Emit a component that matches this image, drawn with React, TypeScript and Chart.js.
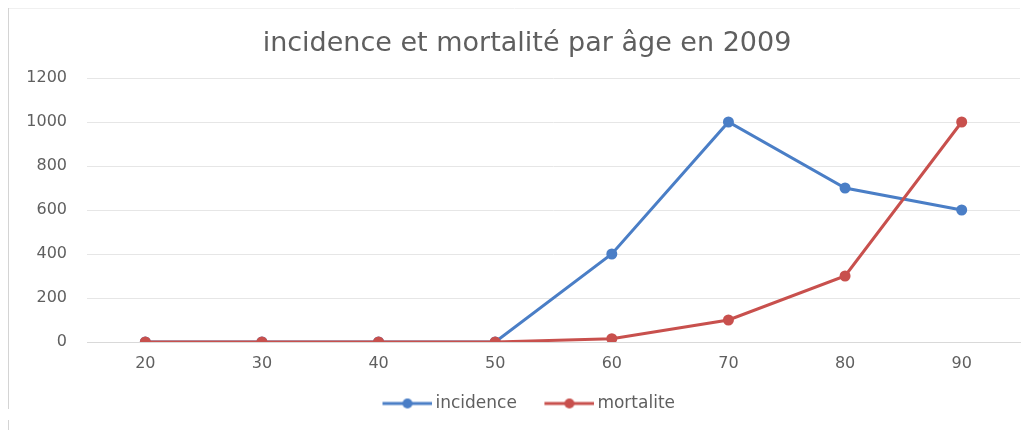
import React, { useEffect, useRef } from "react";
import { Chart, registerables } from "chart.js";

Chart.register(...registerables);

const TITLE = "incidence et mortalité par âge en 2009";
const AGES = ["20", "30", "40", "50", "60", "70", "80", "90"];
const INCIDENCE = [0, 0, 0, 0, 400, 1000, 700, 600];
const MORTALITE = [0, 0, 0, 0, 15, 100, 300, 1000];
const SERIES_NAMES = ["incidence", "mortalite"];
const BLUE = "#4a7ec6";
const RED = "#c8504d";
const TEXT = "#5f5f5f";
const FONT = "'DejaVu Sans', Verdana, sans-serif";

function legendIcon(color: string): HTMLCanvasElement {
  const c = document.createElement("canvas");
  c.width = 59;
  c.height = 12;
  const ctx = c.getContext("2d")!;
  ctx.strokeStyle = color;
  ctx.lineWidth = 3;
  ctx.beginPath();
  ctx.moveTo(9, 6);
  ctx.lineTo(59, 6);
  ctx.stroke();
  ctx.fillStyle = color;
  ctx.beginPath();
  ctx.arc(34, 6, 5, 0, Math.PI * 2);
  ctx.fill();
  return c;
}

const framePlugin = {
  id: "frame",
  afterLayout(chart: any) {
    // let the y tick labels use the space left of the layout padding
    const y = chart.scales.y;
    if (y) y.left = 10;
  },
  beforeDraw(chart: any) {
    const ctx = chart.ctx;
    ctx.save();
    ctx.strokeStyle = "#d4d4d4";
    ctx.lineWidth = 1;
    ctx.beginPath();
    ctx.moveTo(8.5, 8);
    ctx.lineTo(8.5, 409);
    ctx.moveTo(8.5, 420);
    ctx.lineTo(8.5, 430);
    ctx.stroke();
    ctx.strokeStyle = "#f0f0f0";
    ctx.beginPath();
    ctx.moveTo(9, 8.5);
    ctx.lineTo(1020, 8.5);
    ctx.stroke();
    ctx.restore();
  },
};

export default function App() {
  const ref = useRef<HTMLCanvasElement | null>(null);
  useEffect(() => {
    if (!ref.current) return;
    const icons = [legendIcon(BLUE), legendIcon(RED)];
    const chart = new Chart(ref.current, {
      type: "line",
      data: {
        labels: AGES,
        datasets: [
          {
            label: SERIES_NAMES[0],
            data: INCIDENCE,
            borderColor: BLUE,
            backgroundColor: BLUE,
            borderWidth: 3,
            pointRadius: 5.5,
            pointBorderWidth: 0,
            pointBackgroundColor: BLUE,
            tension: 0,
            order: 1,
          },
          {
            label: SERIES_NAMES[1],
            data: MORTALITE,
            borderColor: RED,
            backgroundColor: RED,
            borderWidth: 3,
            pointRadius: 5.5,
            pointBorderWidth: 0,
            pointBackgroundColor: RED,
            tension: 0,
            order: 0,
          },
        ],
      },
      options: {
        animation: false,
        responsive: true,
        maintainAspectRatio: false,
        layout: { padding: { left: 34, right: 8, top: 0, bottom: 8 } },
        plugins: {
          title: {
            display: true,
            text: TITLE,
            color: TEXT,
            font: { family: FONT, size: 27, weight: "normal" },
            padding: { top: 28, bottom: 17.6 },
          },
          legend: {
            position: "bottom",
            labels: {
              usePointStyle: true,
              pointStyleWidth: 48,
              color: TEXT,
              font: { family: FONT, size: 17 },
              padding: 24,
              generateLabels: (chart: any) =>
                chart.data.datasets.map((ds: any, i: number) => ({
                  text: ds.label,
                  pointStyle: icons[i],
                  fillStyle: ds.borderColor,
                  strokeStyle: ds.borderColor,
                  lineWidth: 0,
                  datasetIndex: i,
                  fontColor: TEXT,
                })),
            },
          },
          tooltip: { enabled: false },
        },
        scales: {
          x: {
            offset: true,
            grid: { display: false, drawTicks: false },
            border: { display: true, color: "#d9d9d9" },
            afterFit: (scale: any) => {
              scale.height = 29;
            },
            ticks: {
              color: TEXT,
              padding: 12,
              font: { family: FONT, size: 16 },
            },
          },
          y: {
            min: 0,
            max: 1200,
            afterFit: (scale: any) => {
              scale.width = 53;
            },
            grid: { color: "#e6e6e6", drawTicks: false },
            border: { display: false },
            ticks: {
              stepSize: 200,
              color: TEXT,
              padding: 20,
              font: { family: FONT, size: 16 },
              callback: (v: any) => String(v),
            },
          },
        },
      },
      plugins: [framePlugin],
    });
    return () => chart.destroy();
  }, []);
  return (
    <div style={{ position: "fixed", left: 0, top: 0, width: 1028, height: 430, background: "#fff" }}>
      <canvas ref={ref} />
    </div>
  );
}
